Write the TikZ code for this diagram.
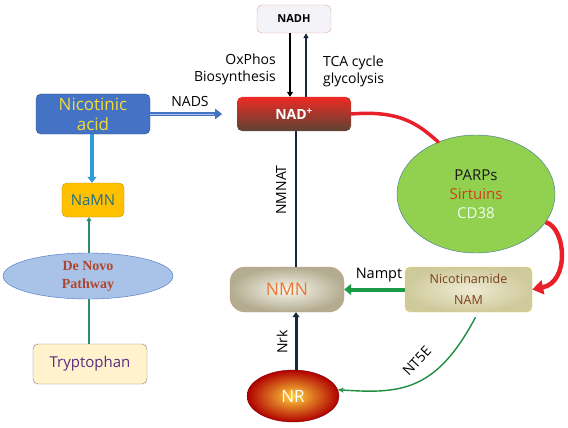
\documentclass[tikz,border=0pt]{standalone}
\usepackage{fontspec}
\setmainfont{Open Sans}
\newfontfamily\serifbold{Liberation Serif}
\usetikzlibrary{arrows.meta,shapes.geometric}
\definecolor{nablue}{HTML}{4472C4}
\definecolor{nadraw}{HTML}{2F528F}
\definecolor{nayellow}{HTML}{F2DC3C}
\definecolor{skyblue}{HTML}{2E9AD8}
\definecolor{namnfill}{HTML}{FFC000}
\definecolor{namndraw}{HTML}{BF9000}
\definecolor{namntext}{HTML}{1F6E8C}
\definecolor{dnfill}{HTML}{A9C3E8}
\definecolor{dntext}{HTML}{B0452E}
\definecolor{tealline}{HTML}{2B8C72}
\definecolor{trypfill}{HTML}{FFF2CC}
\definecolor{tryptext}{HTML}{5B2C83}
\definecolor{nadhfill}{HTML}{F3F3F8}
\definecolor{nadhdraw}{HTML}{E0A898}
\definecolor{nadtop}{HTML}{EE2A24}
\definecolor{nadbot}{HTML}{5C4434}
\definecolor{navy}{HTML}{1C2540}
\definecolor{nmnouter}{HTML}{B3AC90}
\definecolor{nmninner}{HTML}{FAF8EE}
\definecolor{nmndraw}{HTML}{C8A27A}
\definecolor{nmntext}{HTML}{E8793A}
\definecolor{namouter}{HTML}{CFCA9C}
\definecolor{naminner}{HTML}{EEEBD4}
\definecolor{namdraw}{HTML}{EADB5A}
\definecolor{namtext}{HTML}{7B3F1A}
\definecolor{parpfill}{HTML}{92D050}
\definecolor{parpdraw}{HTML}{41719C}
\definecolor{sirt}{HTML}{D0401E}
\definecolor{redline}{HTML}{E8202A}
\definecolor{nrinner}{HTML}{FFD23C}
\definecolor{nrouter}{HTML}{B00000}
\definecolor{greenarrow}{HTML}{1D9A46}
\definecolor{greenline}{HTML}{1E8E3E}
\tikzset{
  boxnode/.style={draw, rounded corners=5pt, inner sep=0pt, align=center},
  lbl/.style={inner sep=0pt, align=center, font=\fontsize{14}{17}\selectfont},
}
\begin{document}
\begin{tikzpicture}[x=1pt,y=-1pt]
\useasboundingbox (0,0) rectangle (568,428);

% nodes
\node[boxnode, minimum width=74pt, minimum height=28pt, fill=nadhfill, draw=nadhdraw,
      font=\bfseries\fontsize{11}{13}\selectfont] (nadh) at (294,19) {NADH};
\node[boxnode, minimum width=114pt, minimum height=34pt, draw=none,
      top color=nadtop, middle color=nadtop!85!black, bottom color=nadbot, text=white,
      font=\bfseries\fontsize{14}{16}\selectfont] (nad) at (294,114) {NAD\textsuperscript{+}};
\node[boxnode, minimum width=114pt, minimum height=40pt, fill=nablue, draw=nadraw,
      text=nayellow, font=\fontsize{17}{20}\selectfont] (nica) at (93,114) {Nicotinic\\acid};
\node[boxnode, minimum width=62pt, minimum height=34pt, fill=namnfill, draw=namndraw,
      text=namntext, font=\fontsize{15}{17}\selectfont] (namn) at (93,200) {NaMN};
\node[ellipse, draw=nablue, fill=dnfill, minimum width=170pt, minimum height=46pt, inner sep=0pt,
      align=center, text=dntext, font=\serifbold\bfseries\fontsize{14}{18}\selectfont] (denovo) at (88,276) {De Novo\\Pathway};
\node[boxnode, minimum width=114pt, minimum height=40pt, fill=trypfill, draw=gray,
      text=tryptext, font=\fontsize{15}{17}\selectfont] (tryp) at (90,364) {Tryptophan};
\node[boxnode, rounded corners=15pt, minimum width=114pt, minimum height=45pt, draw=nmndraw,
      inner color=nmninner, outer color=nmnouter, text=nmntext,
      font=\fontsize{17.5}{20}\selectfont] (nmn) at (287,289.5) {NMN};
\node[boxnode, minimum width=127pt, minimum height=45pt, draw=namdraw,
      inner color=naminner, outer color=namouter, text=namtext,
      font=\fontsize{12.5}{21}\selectfont] (nam) at (468.5,289.5) {Nicotinamide\\NAM};
\node[ellipse, draw=nrouter!70!black, inner color=nrinner, outer color=nrouter,
      minimum width=92pt, minimum height=52pt, inner sep=0pt, text=white,
      font=\fontsize{17}{20}\selectfont] (nr) at (293,396) {NR};
\node[ellipse, draw=parpdraw, fill=parpfill, minimum width=158pt, minimum height=118pt,
      inner sep=0pt, align=center, font=\fontsize{15}{19}\selectfont] (parps) at (476,194)
      {\textcolor{black!90}{PARPs}\\\textcolor{sirt}{Sirtuins}\\\textcolor{white!92!green}{CD38}};

% labels
\node[lbl, align=right, anchor=east] (oxp) at (276,69) {OxPhos\\Biosynthesis};
\node[lbl, align=left, anchor=west] (tca) at (323,71) {TCA cycle\\glycolysis};
\node[lbl] (nads) at (190,101) {NADS};
\node[lbl, rotate=90] (nmnat) at (281,190) {NMNAT};
\node[lbl, rotate=90] (nrk) at (282,342) {Nrk};
\node[lbl, font=\fontsize{14.5}{17}\selectfont] (nampt) at (379,275) {Nampt};
\node[lbl, rotate=47] (nt5e) at (417,361) {NT5E};

% connectors
\draw[draw=black, line width=2.2pt, -{Triangle[length=5pt,width=6pt]}]
  ([xshift=-4pt]nadh.south) -- ([xshift=-4pt]nad.north);
\draw[draw=navy, line width=1.6pt, -{Triangle[length=5pt,width=5pt]}]
  ([xshift=12pt]nad.north) -- ([xshift=12pt]nadh.south);
\draw[draw=nablue, line width=4pt, -{Triangle[length=7pt,width=10pt]}]
  (nica.east) -- ([xshift=72pt]nica.east);
\draw[draw=nablue!45!white, line width=0.8pt] (nica.east) -- ([xshift=64pt]nica.east);
\draw[draw=skyblue, line width=3.5pt, -{Triangle[length=6pt,width=9pt]}]
  ([xshift=-1pt]nica.south) -- ([xshift=-1pt]namn.north);
\draw[draw=tealline, line width=2.2pt, -{Triangle[length=4pt,width=5pt]}]
  ([xshift=1pt]denovo.north) -- ([xshift=1pt]denovo.north |- namn.south);
\draw[draw=tealline, line width=2.2pt]
  ([xshift=1pt]denovo.south) -- ([xshift=1pt]denovo.south |- tryp.north);
\draw[draw=navy, line width=1.2pt] ([xshift=2pt]nad.south) -- ([xshift=9pt]nmn.north);
\draw[draw=navy, line width=3pt, -{Triangle[length=5pt,width=7pt]}]
  ([xshift=3pt]nr.north) -- ([xshift=9pt]nmn.south);
\draw[draw=greenarrow, line width=4pt, -{Triangle[length=7pt,width=11pt]}]
  (nam.west) -- (nmn.east);
\draw[draw=greenline, line width=1.4pt, -{Stealth[length=6pt,width=5pt]}]
  ([xshift=7pt,yshift=-5pt]nam.south) .. controls (436,392) and (400,394) .. (nr.8);
\draw[draw=redline, line width=3.5pt, line cap=round]
  (nad.east) .. controls (400,110) and (418,124) .. (parps.126);
\draw[draw=redline, line width=4.5pt, -{Triangle[length=11pt,width=14pt]}]
  (parps.-22) .. controls (566,228) and (570,282) .. (nam.east);
\end{tikzpicture}
\end{document}
